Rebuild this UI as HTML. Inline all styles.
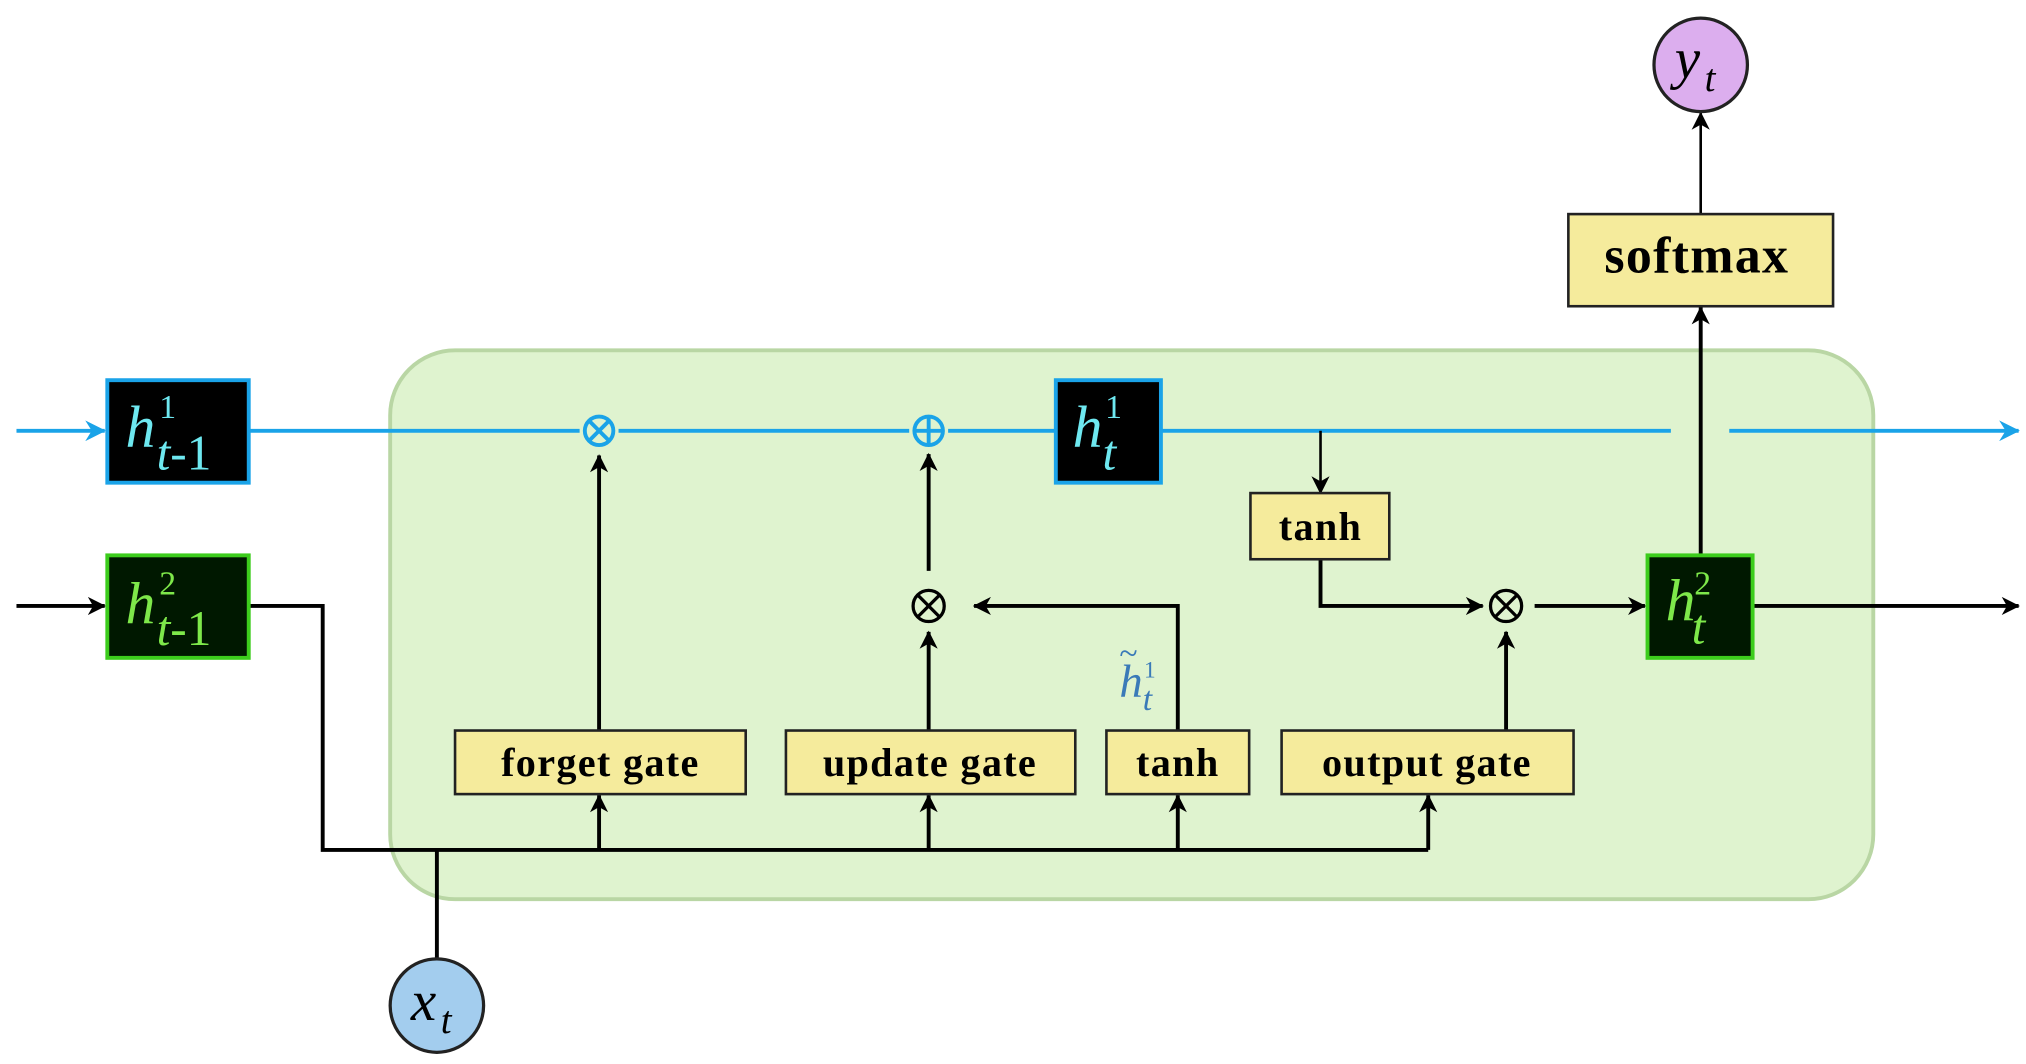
<!DOCTYPE html>
<html><head><meta charset="utf-8"><style>html,body{margin:0;padding:0;background:#fff}svg{display:block}</style></head>
<body>
<svg width="2026" height="1064" viewBox="0 0 1560 820" xmlns="http://www.w3.org/2000/svg">
<defs>
<marker id="ab" markerWidth="14" markerHeight="14" refX="13" refY="7" orient="auto" markerUnits="userSpaceOnUse"><path d="M0,0 L14,7 L0,14 L4,7 Z" fill="#000"/></marker>
<marker id="abl" markerWidth="16" markerHeight="16" refX="15" refY="8" orient="auto" markerUnits="userSpaceOnUse"><path d="M0,0 L16,8 L0,16 L5,8 Z" fill="#1aa3e8"/></marker>
</defs>
<rect x="300" y="270" width="1143" height="423" rx="50" fill="#dff3cf" stroke="#b9d6a4" stroke-width="3"/>
<g stroke="#1aa3e8" stroke-width="3" fill="none">
<line x1="12" y1="332" x2="80" y2="332" marker-end="url(#abl)"/>
<line x1="192" y1="332" x2="446" y2="332"/>
<line x1="476" y1="332" x2="700" y2="332"/>
<line x1="730" y1="332" x2="812" y2="332"/>
<line x1="894" y1="332" x2="1287" y2="332"/>
<line x1="1332" y1="332" x2="1555" y2="332" marker-end="url(#abl)"/>
<circle cx="461" cy="332" r="11"/><line x1="453" y1="324" x2="469" y2="340"/><line x1="469" y1="324" x2="453" y2="340"/>
<circle cx="715" cy="332" r="11"/><line x1="704" y1="332" x2="726" y2="332"/><line x1="715" y1="321" x2="715" y2="343"/>
</g>
<g stroke="#000" stroke-width="3" fill="none">
<line x1="12" y1="467" x2="80" y2="467" marker-end="url(#ab)"/>
<polyline points="192,467 248,467 248,655 1100,655"/>
<line x1="336" y1="655" x2="336" y2="739"/>
<line x1="461" y1="655" x2="461" y2="613" marker-end="url(#ab)"/>
<line x1="715" y1="655" x2="715" y2="613" marker-end="url(#ab)"/>
<line x1="907" y1="655" x2="907" y2="613" marker-end="url(#ab)"/>
<line x1="1100" y1="655" x2="1100" y2="613" marker-end="url(#ab)"/>
<line x1="461" y1="563" x2="461" y2="351" marker-end="url(#ab)"/>
<line x1="715" y1="563" x2="715" y2="487" marker-end="url(#ab)"/>
<line x1="715" y1="440" x2="715" y2="350" marker-end="url(#ab)"/>
<polyline points="907,563 907,467 750,467" marker-end="url(#ab)"/>
<line x1="1017" y1="332" x2="1017" y2="380" stroke-width="2" marker-end="url(#ab)"/>
<polyline points="1017,431 1017,467 1142,467" marker-end="url(#ab)"/>
<line x1="1160" y1="563" x2="1160" y2="487" marker-end="url(#ab)"/>
<line x1="1182" y1="467" x2="1267" y2="467" marker-end="url(#ab)"/>
<line x1="1350" y1="467" x2="1555" y2="467" marker-end="url(#ab)"/>
<line x1="1310" y1="427" x2="1310" y2="237" marker-end="url(#ab)"/>
<line x1="1310" y1="165" x2="1310" y2="87" stroke-width="2" marker-end="url(#ab)"/>
<circle cx="715" cy="467" r="12" stroke-width="2.5"/><line x1="707" y1="459" x2="723" y2="475" stroke-width="2.5"/><line x1="723" y1="459" x2="707" y2="475" stroke-width="2.5"/>
<circle cx="1160" cy="467" r="12" stroke-width="2.5"/><line x1="1152" y1="459" x2="1168" y2="475" stroke-width="2.5"/><line x1="1168" y1="459" x2="1152" y2="475" stroke-width="2.5"/>
</g>
<rect x="82" y="293" width="109" height="79" fill="#000" stroke="#1aa3e8" stroke-width="3"/>
<rect x="813" y="293" width="81" height="79" fill="#000" stroke="#1aa3e8" stroke-width="3"/>
<rect x="82" y="428" width="109" height="79" fill="#001800" stroke="#3ccc1c" stroke-width="3"/>
<rect x="1269" y="428" width="81" height="79" fill="#001800" stroke="#3ccc1c" stroke-width="3"/>
<g font-family="Liberation Serif, serif" font-style="italic">
<text x="96" y="344" font-size="46" fill="#6ee8f0">h</text><text x="122" y="322" font-size="26" font-style="normal" fill="#6ee8f0">1</text><text x="120" y="362" font-size="38" fill="#6ee8f0">t<tspan font-style="normal">-1</tspan></text>
<text x="826" y="344" font-size="46" fill="#6ee8f0">h</text><text x="851" y="322" font-size="26" font-style="normal" fill="#6ee8f0">1</text><text x="849" y="362" font-size="38" fill="#6ee8f0">t</text>
<text x="96" y="480" font-size="46" fill="#7ee84a">h</text><text x="122" y="458" font-size="26" font-style="normal" fill="#7ee84a">2</text><text x="120" y="497" font-size="38" fill="#7ee84a">t<tspan font-style="normal">-1</tspan></text>
<text x="1283" y="478" font-size="46" fill="#7ee84a">h</text><text x="1305" y="458" font-size="26" font-style="normal" fill="#7ee84a">2</text><text x="1303" y="496" font-size="38" fill="#7ee84a">t</text>
<text x="862" y="537" font-size="36" fill="#3a7ab8">h</text><text x="862" y="512" font-size="26" font-style="normal" fill="#3a7ab8">~</text><text x="881" y="522" font-size="18" font-style="normal" fill="#3a7ab8">1</text><text x="880" y="547" font-size="26" fill="#3a7ab8">t</text>
</g>
<g fill="#f5eb9c" stroke="#222" stroke-width="2">
<rect x="350" y="563" width="224" height="49"/>
<rect x="605" y="563" width="223" height="49"/>
<rect x="852" y="563" width="110" height="49"/>
<rect x="987" y="563" width="225" height="49"/>
<rect x="963" y="380" width="107" height="51"/>
<rect x="1208" y="165" width="204" height="71"/>
</g>
<g font-family="Liberation Serif, serif" font-weight="bold" font-size="31" fill="#000" text-anchor="middle" letter-spacing="1">
<text x="462" y="598">forget gate</text>
<text x="716" y="598">update gate</text>
<text x="907" y="598">tanh</text>
<text x="1099" y="598">output gate</text>
<text x="1017" y="416">tanh</text>
<text x="1307" y="210" font-size="40">softmax</text>
</g>
<circle cx="336" cy="775" r="36" fill="#a3cdee" stroke="#222" stroke-width="2.5"/>
<circle cx="1310" cy="50" r="36" fill="#dcaeee" stroke="#222" stroke-width="2.5"/>
<g font-family="Liberation Serif, serif" font-style="italic" fill="#000">
<text x="316" y="786" font-size="44">x</text><text x="339" y="796" font-size="30">t</text>
<text x="1290" y="60" font-size="44">y</text><text x="1313" y="70" font-size="30">t</text>
</g>
</svg>
</body></html>
